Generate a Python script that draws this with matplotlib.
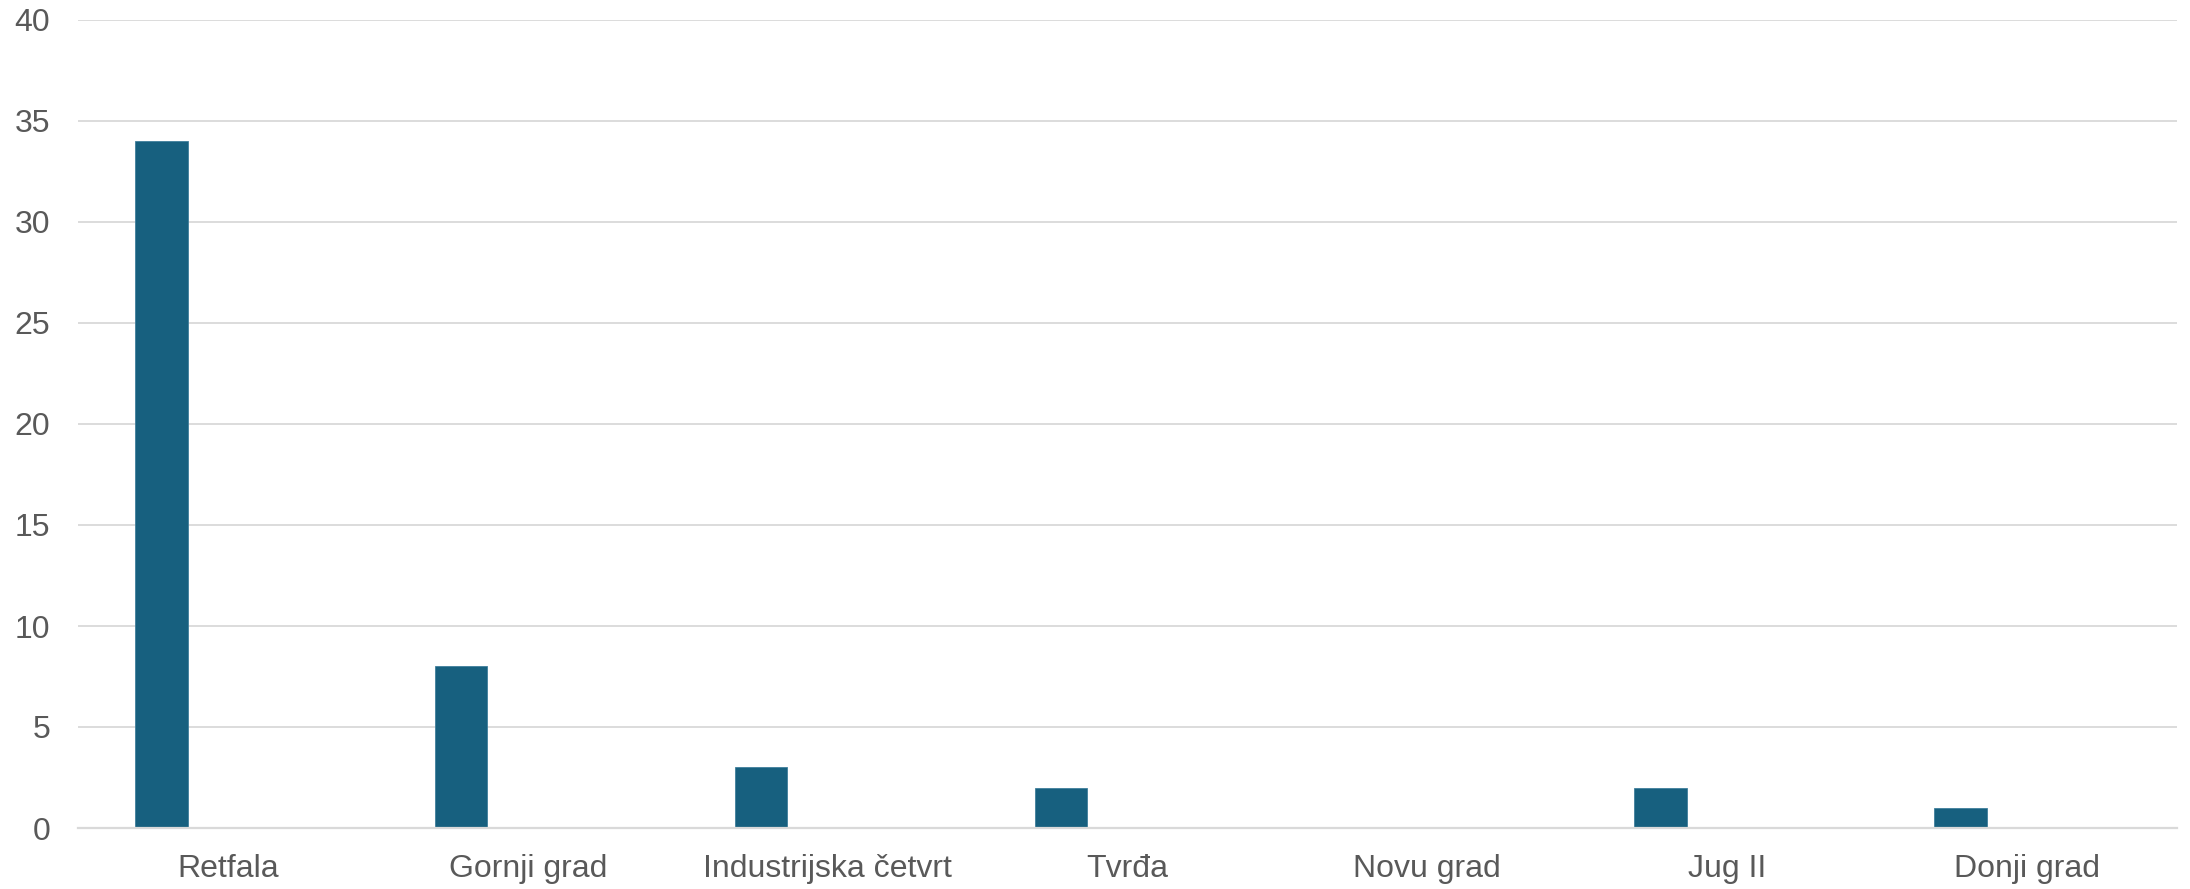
import numpy as np
import matplotlib
matplotlib.use('Agg')
import matplotlib.pyplot as plt
from matplotlib import rcParams

rcParams['font.family'] = ['Liberation Sans', 'DejaVu Sans']

categories = ['Retfala', 'Gornji grad', 'Industrijska četvrt', 'Tvrđa',
              'Novu grad', 'Jug II', 'Donji grad']
values = [34, 8, 3, 2, 0, 2, 1]
yticks = [0, 5, 10, 15, 20, 25, 30, 35, 40]

bar_color = '#17607F'
grid_color = '#D9D9D9'
text_color = '#595959'

fig = plt.figure(figsize=(21.9, 8.89), dpi=100)
ax = fig.add_axes([78 / 2190, 61 / 889, 2099 / 2190, 808 / 889])

x = np.arange(len(categories))
# bars sit left of the category centre (first slot of a cluster)
ax.bar(x - 0.222, values, width=0.175, color=bar_color,
       edgecolor='#3F7F9C', linewidth=0.6, zorder=3)

ax.set_xlim(-0.5, len(categories) - 0.5)
ax.set_ylim(0, 40)
ax.set_yticks(yticks)
ax.set_xticks(x)
ax.set_xticklabels(categories)

ax.yaxis.grid(True, color=grid_color, linewidth=1.3, zorder=0)
ax.set_axisbelow(True)
for s in ['top', 'right', 'left']:
    ax.spines[s].set_visible(False)
ax.spines['bottom'].set_color(grid_color)
ax.spines['bottom'].set_linewidth(1.6)
ax.spines['bottom'].set_zorder(4)

ax.tick_params(axis='both', length=0, labelsize=23, labelcolor=text_color)
ax.tick_params(axis='x', pad=19)
ax.tick_params(axis='y', pad=20)

plt.savefig('out.png', dpi=100)
